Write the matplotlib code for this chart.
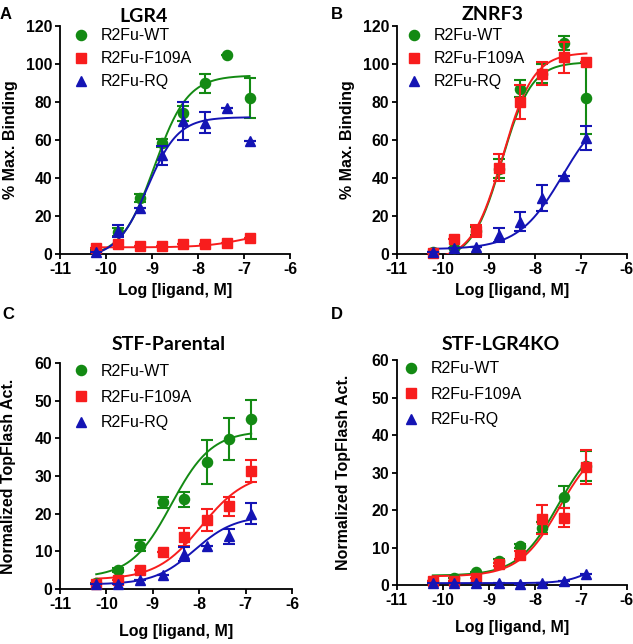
import numpy as np
import matplotlib
matplotlib.use("Agg")
import matplotlib.pyplot as plt

plt.rcParams['font.family'] = ['Liberation Sans', 'DejaVu Sans']
plt.rcParams['axes.unicode_minus'] = False

# log dose of ligand (M)
doses = [-10.22, -9.75, -9.27, -8.79, -8.32, -7.84, -7.36, -6.88]
series_names = ['R2Fu-WT', 'R2Fu-F109A', 'R2Fu-RQ']
colors = ['#138a13', '#f81d1d', '#1414b4']
markers = ['o', 's', '^']

# panel A - LGR4 binding
a_wt = [2, 11.5, 29.5, 58.5, 74, 90, 105, 82]
a_wt_err = [0, 2, 2, 2, 4, 5, 0, 10.5]
a_f109a = [3, 5.5, 4, 4, 5, 5.5, 6, 8.5]
a_f109a_err = [0, 0, 0, 0, 0, 0, 0, 0]
a_rq = [1, 12, 24, 52, 70, 69, 77, 59.5]
a_rq_err = [0, 3, 0, 5, 10, 5.5, 0, 0]

# panel B - ZNRF3 binding
b_wt = [1, 3, 12, 45, 87, 95, 111, 82]
b_wt_err = [0, 0, 2, 5, 4.5, 5, 3.5, 19]
b_f109a = [0.5, 8, 12, 45.5, 80, 95, 103.5, 101]
b_f109a_err = [0, 0, 3, 7, 9, 6, 8, 0]
b_rq = [1, 3, 3.5, 10, 17, 29.5, 41, 61]
b_rq_err = [0, 0, 0, 3.5, 5, 7, 0, 6.5]

# panel C - STF parental
c_wt = [1.5, 5, 11.5, 23, 23.8, 33.8, 39.8, 45]
c_wt_err = [0, 0.5, 1.5, 1.5, 2, 5.8, 5.5, 5.3]
c_f109a = [1.2, 2.5, 5, 9.7, 13.8, 18.3, 22, 31.3]
c_f109a_err = [0, 0, 0, 0, 2.3, 3, 2.5, 3]
c_rq = [1.2, 1.3, 2.5, 3.6, 9.3, 11.5, 14, 20]
c_rq_err = [0, 0, 0, 0, 1.8, 0, 2, 2.8]

# panel D - STF LGR4 KO
d_wt = [1, 2, 3.5, 6.5, 10.5, 15.3, 23.5, 31.8]
d_wt_err = [0, 0, 0, 0.5, 0.5, 1.5, 3, 4]
d_f109a = [1, 1.2, 2, 5.5, 8, 17.5, 18, 31.5]
d_f109a_err = [0, 0, 0, 0.5, 1, 3.8, 2.5, 4.5]
d_rq = [0.5, 0.5, 0.5, 0.5, 0.3, 0.5, 1, 3]
d_rq_err = [0, 0, 0, 0, 0, 0, 0, 0]

# fitted curve parameters (bottom, top, logEC50, hill)
a_fits = [(-2, 94, -8.95, 1.2), (3.5, 12, -7.0, 1.0), (-2, 72, -9.1, 1.3)]
b_fits = [(-3, 101, -8.72, 1.35), (-3, 106, -8.7, 1.3), (2.5, 80, -7.4, 0.9)]
c_fits = [(3, 42, -8.6, 1.0), (2.5, 31, -7.95, 0.9), (1.2, 19.5, -8.1, 1.0)]
d_fits = [(2.5, 40, -7.5, 1.0), (2.3, 39, -7.47, 1.0), (0.5, 8, -6.7, 1.5)]


def logistic(x, bottom, top, ec50, hill):
    return bottom + (top - bottom) / (1 + 10 ** ((ec50 - x) * hill))


panels = [
    dict(rect=[0.0948, 0.6056, 0.3634, 0.354], letter='A', lpos=(0, 637),
         title='LGR4', tpos=(144, 16), ymax=120, ystep=20,
         ylabel='% Max. Binding', ylx=-0.217, xly=-0.158, leg=(0.055, 0.99, 0.5),
         data=[(a_wt, a_wt_err), (a_f109a, a_f109a_err), (a_rq, a_rq_err)], fits=a_fits),
    dict(rect=[0.627, 0.6056, 0.3634, 0.354], letter='B', lpos=(331, 637),
         title='ZNRF3', tpos=(493, 15), ymax=120, ystep=20,
         ylabel='% Max. Binding', ylx=-0.213, xly=-0.158, leg=(0.04, 0.99, 0.5),
         data=[(b_wt, b_wt_err), (b_f109a, b_f109a_err), (b_rq, b_rq_err)], fits=b_fits),
    dict(rect=[0.0948, 0.0854, 0.3666, 0.351], letter='C', lpos=(2, 322),
         title='STF-Parental', tpos=(169, 344), ymax=60, ystep=10,
         ylabel='Normalized TopFlash Act.', ylx=-0.22, xly=-0.186, leg=(0.055, 0.995, 0.66),
         data=[(c_wt, c_wt_err), (c_f109a, c_f109a_err), (c_rq, c_rq_err)], fits=c_fits),
    dict(rect=[0.627, 0.0916, 0.3634, 0.349], letter='D', lpos=(331, 322),
         title='STF-LGR4KO', tpos=(501, 345), ymax=60, ystep=10,
         ylabel='Normalized TopFlash Act.', ylx=-0.23, xly=-0.191, leg=(0.025, 0.995, 0.66),
         data=[(d_wt, d_wt_err), (d_f109a, d_f109a_err), (d_rq, d_rq_err)], fits=d_fits),
]

W, H = 633, 644
fig = plt.figure(figsize=(W / 100, H / 100), dpi=100)
xs = np.linspace(doses[0], doses[-1], 200)

for p in panels:
    ax = fig.add_axes(p['rect'])
    for i, ((vals, err), fit) in enumerate(zip(p['data'], p['fits'])):
        ax.plot(xs, logistic(xs, *fit), color=colors[i], lw=1.4, zorder=2 + i)
        ax.errorbar(doses, vals, yerr=err, fmt=markers[i], color=colors[i],
                    ms=7.3 if markers[i] != 's' else 6.8, elinewidth=1.5, capsize=4.5,
                    capthick=1.5, zorder=3 + i, clip_on=False, label=series_names[i])
    ax.set_xlim(-11, -6)
    ax.set_ylim(0, p['ymax'])
    ax.set_xticks(range(-11, -5))
    ax.set_yticks(range(0, p['ymax'] + 1, p['ystep']))
    for s in ['top', 'right']:
        ax.spines[s].set_visible(False)
    for s in ['left', 'bottom']:
        ax.spines[s].set_linewidth(1.3)
    ax.tick_params(length=3.5, width=1.3, labelsize=11.3, pad=2)
    for t in ax.get_xticklabels() + ax.get_yticklabels():
        t.set_fontweight('bold')
    ax.set_xlabel('Log [ligand, M]', fontsize=11.5, fontweight='bold', va='center')
    ax.set_ylabel(p['ylabel'], fontsize=11.5, fontweight='bold', va='center')
    ax.xaxis.set_label_coords(0.5, p['xly'])
    ax.yaxis.set_label_coords(p['ylx'], 0.5)

    handles, labels = ax.get_legend_handles_labels()
    handles = [h[0] for h in handles]
    lx, ly, sp = p['leg']
    ax.legend(handles, labels, loc='upper left', bbox_to_anchor=(lx, ly), frameon=False,
              fontsize=11.5, handlelength=1.0, handletextpad=0.75, borderpad=0,
              borderaxespad=0, labelspacing=sp)

    fig.text(p['lpos'][0] / W, p['lpos'][1] / H, p['letter'], fontsize=12,
             fontweight='bold', ha='left', va='top' if p['letter'] in 'AB' else 'bottom')
    fig.text(p['tpos'][0] / W, 1 - p['tpos'][1] / H, p['title'], fontsize=14,
             fontweight='bold', family=['Lato', 'DejaVu Sans'], ha='center', va='center')

fig.savefig('out.png', dpi=100)
